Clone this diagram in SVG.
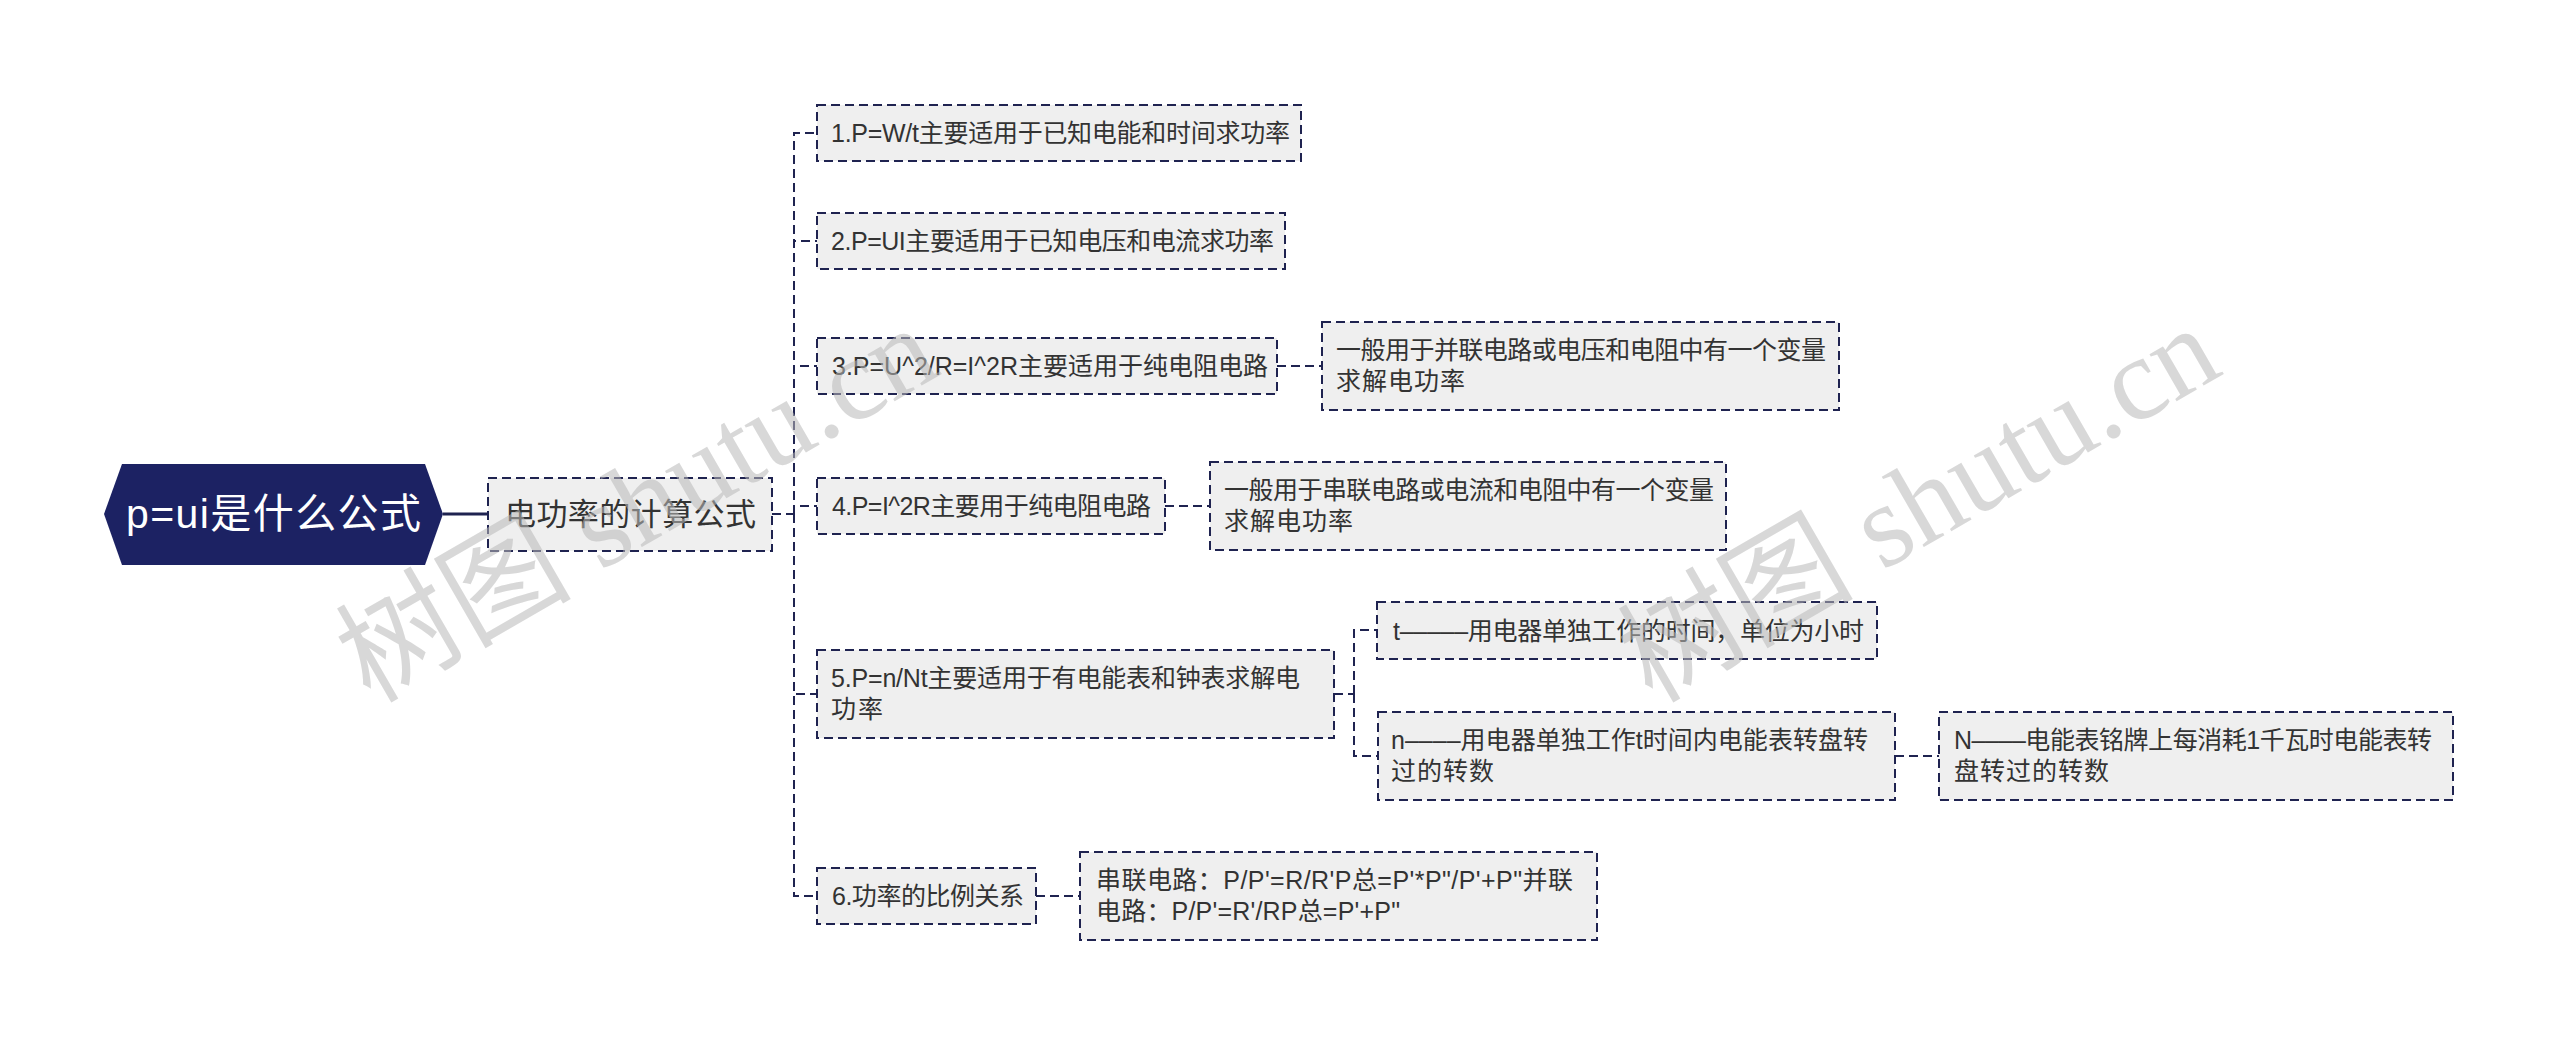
<svg xmlns="http://www.w3.org/2000/svg" width="2560" height="1045" viewBox="0 0 2560 1045">
  <style>
    .box { fill: #efefef; stroke: #1f2350; stroke-width: 2; stroke-dasharray: 9 5; }
    .t { font-family: "Liberation Sans", "Noto Sans CJK SC", sans-serif; font-size: 25px; fill: #333333; }
    .l1 { font-family: "Liberation Sans", "Noto Sans CJK SC", sans-serif; font-size: 31px; fill: #333333; }
    .root { font-family: "Liberation Sans", "Noto Sans CJK SC", sans-serif; font-size: 41px; fill: #ffffff; }
    .conn { fill: none; stroke: #1f2350; stroke-width: 2; stroke-dasharray: 9 5; }
    .wm { font-family: "Liberation Serif", "Noto Sans CJK SC", serif; font-size: 118px; fill: #b8b8b8; fill-opacity: 0.55; }
  </style>
  <rect width="2560" height="1045" fill="#ffffff"/>

  <g id="connectors">
    <path d="M443 514 H488" fill="none" stroke="#1f2350" stroke-width="3"/>
    <path class="conn" d="M772 514 H794"/>
    <path class="conn" d="M794 514 V133 H817"/>
    <path class="conn" d="M794 514 V241 H817"/>
    <path class="conn" d="M794 514 V366 H817"/>
    <path class="conn" d="M794 514 V506 H817"/>
    <path class="conn" d="M794 514 V694 H817"/>
    <path class="conn" d="M794 514 V896 H817"/>
    <path class="conn" d="M1277 366 H1322"/>
    <path class="conn" d="M1165 506 H1210"/>
    <path class="conn" d="M1334 694 H1354"/>
    <path class="conn" d="M1354 694 V630 H1377"/>
    <path class="conn" d="M1354 694 V756 H1378"/>
    <path class="conn" d="M1895 756 H1939"/>
    <path class="conn" d="M1036 896 H1080"/>
  </g>

  <g id="root">
    <polygon points="104,514 122,464 425,464 443,514 425,565 122,565" fill="#1c2263"/>
    <text class="root" x="126" y="528" textLength="295">p=ui是什么公式</text>
  </g>

  <g id="n-l1">
    <rect class="box" x="488" y="478" width="284" height="73"/>
    <text class="l1" x="505" y="525" textLength="251">电功率的计算公式</text>
  </g>

  <g id="n1">
    <rect class="box" x="817" y="105" width="484" height="56"/>
    <text class="t" x="831" y="142" textLength="459">1.P=W/t主要适用于已知电能和时间求功率</text>
  </g>

  <g id="n2">
    <rect class="box" x="817" y="213" width="468" height="56"/>
    <text class="t" x="831" y="250" textLength="443">2.P=UI主要适用于已知电压和电流求功率</text>
  </g>

  <g id="n3">
    <rect class="box" x="817" y="338" width="460" height="56"/>
    <text class="t" x="832" y="375" textLength="436">3.P=U^2/R=I^2R主要适用于纯电阻电路</text>
  </g>

  <g id="n3c">
    <rect class="box" x="1322" y="322" width="517" height="88"/>
    <text class="t" x="1336" y="359" textLength="490">一般用于并联电路或电压和电阻中有一个变量</text>
    <text class="t" x="1336" y="390" textLength="129">求解电功率</text>
  </g>

  <g id="n4">
    <rect class="box" x="817" y="478" width="348" height="56"/>
    <text class="t" x="832" y="515" textLength="319">4.P=I^2R主要用于纯电阻电路</text>
  </g>

  <g id="n4c">
    <rect class="box" x="1210" y="462" width="516" height="88"/>
    <text class="t" x="1224" y="499" textLength="490">一般用于串联电路或电流和电阻中有一个变量</text>
    <text class="t" x="1224" y="530" textLength="129">求解电功率</text>
  </g>

  <g id="n5">
    <rect class="box" x="817" y="650" width="517" height="88"/>
    <text class="t" x="831" y="687" textLength="469">5.P=n/Nt主要适用于有电能表和钟表求解电</text>
    <text class="t" x="831" y="718" textLength="52">功率</text>
  </g>

  <g id="n5a">
    <rect class="box" x="1377" y="602" width="500" height="57"/>
    <text class="t" x="1393" y="640" textLength="471">t–––––用电器单独工作的时间，单位为小时</text>
  </g>

  <g id="n5b">
    <rect class="box" x="1378" y="712" width="517" height="88"/>
    <text class="t" x="1391" y="749" textLength="477">n––––用电器单独工作t时间内电能表转盘转</text>
    <text class="t" x="1391" y="780" textLength="103">过的转数</text>
  </g>

  <g id="n5bc">
    <rect class="box" x="1939" y="712" width="514" height="88"/>
    <text class="t" x="1954" y="749" textLength="478">N––––电能表铭牌上每消耗1千瓦时电能表转</text>
    <text class="t" x="1954" y="780" textLength="155">盘转过的转数</text>
  </g>

  <g id="n6">
    <rect class="box" x="817" y="868" width="219" height="56"/>
    <text class="t" x="832" y="905" textLength="192">6.功率的比例关系</text>
  </g>

  <g id="n6c">
    <rect class="box" x="1080" y="852" width="517" height="88"/>
    <text class="t" x="1096" y="889" textLength="477">串联电路：P/P'=R/R'P总=P'*P"/P'+P"并联</text>
    <text class="t" x="1096" y="920" textLength="304">电路：P/P'=R'/RP总=P'+P"</text>
  </g>

  <g id="watermark">
    <text class="wm" transform="translate(370,704) rotate(-30)">树图 shutu.cn</text>
    <text class="wm" transform="translate(1652,704) rotate(-30)">树图 shutu.cn</text>
  </g>
</svg>
